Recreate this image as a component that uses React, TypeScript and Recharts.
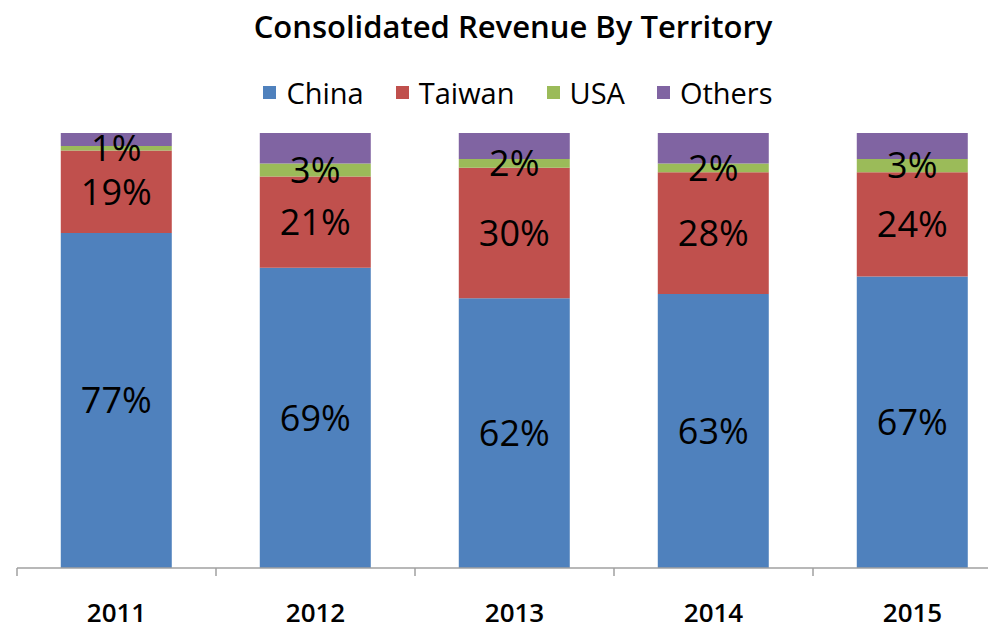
import React from "react";
import { BarChart, Bar, XAxis, YAxis, LabelList } from "recharts";

const years = ["2011", "2012", "2013", "2014", "2015"];
const china = [77, 69, 62, 63, 67];
const taiwan = [19, 21, 30, 28, 24];
const usa = [1, 3, 2, 2, 3];
const others = [3, 7, 6, 7, 6];

const seriesNames = ["China", "Taiwan", "USA", "Others"];
const colors = ["#4F81BD", "#C0504D", "#9BBB59", "#8064A2"];

const data = years.map((y, i) => ({
  year: y,
  China: china[i],
  Taiwan: taiwan[i],
  USA: usa[i],
  Others: others[i],
}));

const FONT = "'Open Sans', 'Noto Sans', sans-serif";

const CHART_W = 1012;
const M_LEFT = 17;
const M_RIGHT = 0;
const TICK_SIZE = 8;
const TICK_MARGIN = 28;
const BAND = (CHART_W - M_LEFT - M_RIGHT) / years.length;

const YearTick = (props: any) => {
  const { x, y, payload, index } = props;
  const axisY = y - TICK_SIZE - TICK_MARGIN;
  const left = x - BAND / 2;
  const right = x + BAND / 2;
  return (
    <g>
      <line x1={left} x2={left} y1={axisY} y2={axisY + TICK_SIZE} stroke="#A0A0A0" strokeWidth={1.5} />
      {index === years.length - 1 && (
        <line x1={right} x2={right} y1={axisY} y2={axisY + TICK_SIZE} stroke="#A0A0A0" strokeWidth={1.5} />
      )}
      <text
        x={x}
        y={y}
        dy="0.71em"
        textAnchor="middle"
        fill="#000"
        fontSize={26}
        fontFamily={FONT}
        fontWeight={600}
      >
        {payload.value}
      </text>
    </g>
  );
};

const pct = (v: any) => `${v}%`;

export default function App() {
  return (
    <div
      style={{
        marginLeft: -8,
        marginTop: -8,
        width: 996,
        height: 630,
        overflow: "hidden",
        position: "relative",
        background: "#fff",
      }}
    >
      <div
        style={{
          position: "absolute",
          top: 5,
          left: 0,
          width: 1026,
          textAlign: "center",
          fontFamily: FONT,
          fontWeight: 600,
          fontSize: 31,
          color: "#000",
          zIndex: 2,
        }}
      >
        Consolidated Revenue By Territory
      </div>
      <div
        style={{
          position: "absolute",
          top: 73,
          left: 0,
          width: 1036,
          display: "flex",
          justifyContent: "center",
          alignItems: "center",
          fontFamily: FONT,
          fontSize: 29,
          color: "#000",
          zIndex: 2,
        }}
      >
        {seriesNames.map((n, i) => (
          <div key={n} style={{ display: "flex", alignItems: "center", marginRight: i < 3 ? 32 : 0 }}>
            <span
              style={{
                display: "inline-block",
                width: 13,
                height: 13,
                background: colors[i],
                marginRight: 10,
              }}
            />
            <span>{n}</span>
          </div>
        ))}
      </div>
      <BarChart
        width={CHART_W}
        height={630}
        data={data}
        margin={{ top: 133, right: M_RIGHT, bottom: 0, left: M_LEFT }}
        barCategoryGap="22%"
      >
        <XAxis
          dataKey="year"
          height={62}
          axisLine={{ stroke: "#A0A0A0", strokeWidth: 1.5 }}
          tickLine={false}
          tickSize={TICK_SIZE}
          tickMargin={TICK_MARGIN}
          tick={<YearTick />}
          interval={0}
        />
        <YAxis hide domain={[0, 100]} />
        {seriesNames.map((n, i) => (
          <Bar key={n} dataKey={n} stackId="a" fill={colors[i]} isAnimationActive={false}>
            {n !== "Others" && (
              <LabelList
                dataKey={n}
                position="center"
                formatter={pct}
                fill="#000"
                fontSize={36}
                fontFamily={FONT}
              />
            )}
          </Bar>
        ))}
      </BarChart>
    </div>
  );
}
